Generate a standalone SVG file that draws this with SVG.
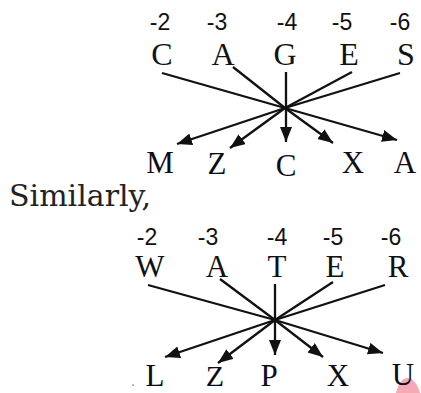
<svg xmlns="http://www.w3.org/2000/svg" width="421" height="393" viewBox="0 0 421 393">
<style>
.num{font-family:"Liberation Sans",Arial,sans-serif;font-size:23px;fill:#111;text-anchor:middle}
.let{font-family:"Liberation Serif","Times New Roman",serif;font-size:32px;fill:#111;text-anchor:middle}
.let2{font-family:"Liberation Serif","Times New Roman",serif;font-size:31px;fill:#111;text-anchor:middle}
.out{font-family:"Liberation Serif","Times New Roman",serif;font-size:31px;fill:#0d0d1a;text-anchor:middle}
.sim{font-family:"DejaVu Serif",serif;font-size:30px;fill:#222}
.ln{stroke:#111;stroke-width:2.3;fill:none}
.ar{stroke:#111;stroke-width:2.3;fill:none;marker-end:url(#ah)}
</style>
<defs>
<marker id="ah" markerUnits="userSpaceOnUse" markerWidth="16" markerHeight="13" refX="15" refY="6" orient="auto">
<path d="M0,0 L15,6 L0,12 Z" fill="#111"/>
</marker>
</defs>
<path d="M396,393 C398,384 402,378 408,378 C414,378 418,386 420,393 Z" fill="#f4a9b5"/>
<g id="top-labels">
<text class="num" x="160" y="30">-2</text>
<text class="num" x="217" y="30">-3</text>
<text class="num" x="287" y="30">-4</text>
<text class="num" x="342" y="30">-5</text>
<text class="num" x="400" y="30">-6</text>
</g>
<g id="node-C"><text class="let" x="162" y="65">C</text></g>
<g id="node-A"><text class="let" x="223" y="65">A</text></g>
<g id="node-G"><text class="let" x="285" y="65">G</text></g>
<g id="node-E"><text class="let" x="349" y="65">E</text></g>
<g id="node-S"><text class="let" x="406" y="65">S</text></g>
<g id="node-M"><text class="out" x="160" y="173">M</text></g>
<g id="node-Z"><text class="out" x="217" y="174">Z</text></g>
<g id="node-C2"><text class="out" x="286" y="176">C</text></g>
<g id="node-X"><text class="out" x="353" y="173">X</text></g>
<g id="node-A2"><text class="out" x="405" y="173">A</text></g>
<g id="connectors-top">
<line class="ln" x1="162" y1="73" x2="285" y2="108"/>
<line class="ln" x1="233" y1="67" x2="285" y2="108"/>
<line class="ln" x1="352" y1="72" x2="285" y2="108"/>
<line class="ln" x1="400" y1="73" x2="285" y2="108"/>
<line class="ar" x1="286" y1="72" x2="286" y2="142"/>
<line class="ar" x1="285" y1="108" x2="177" y2="144"/>
<line class="ar" x1="285" y1="108" x2="230" y2="148"/>
<line class="ar" x1="285" y1="108" x2="333" y2="143"/>
<line class="ar" x1="285" y1="108" x2="397" y2="140"/>
</g>
<text class="sim" x="9" y="206">Similarly,</text>
<g id="bottom-labels">
<text class="num" x="147" y="245">-2</text>
<text class="num" x="208" y="245">-3</text>
<text class="num" x="277" y="245">-4</text>
<text class="num" x="333" y="245">-5</text>
<text class="num" x="391" y="245">-6</text>
</g>
<g id="node-W"><text class="let2" x="150" y="277">W</text></g>
<g id="node-A3"><text class="let2" x="217" y="277">A</text></g>
<g id="node-T"><text class="let2" x="277" y="277">T</text></g>
<g id="node-E2"><text class="let2" x="335" y="277">E</text></g>
<g id="node-R"><text class="let2" x="398" y="277">R</text></g>
<g id="node-L"><text class="out" x="133" y="386" style="font-size:14px;fill:#888">.</text><text class="out" x="155" y="386">L</text></g>
<g id="node-Z2"><text class="out" x="215" y="386" style="font-size:30px">Z</text></g>
<g id="node-P"><text class="out" x="269" y="386">P</text></g>
<g id="node-X2"><text class="out" x="338" y="386">X</text></g>
<g id="node-U"><text class="out" x="403" y="385">U</text></g>
<g id="connectors-bottom">
<line class="ln" x1="148" y1="285" x2="275" y2="320"/>
<line class="ln" x1="220" y1="279" x2="275" y2="320"/>
<line class="ln" x1="333" y1="282" x2="275" y2="320"/>
<line class="ln" x1="385" y1="285" x2="275" y2="320"/>
<line class="ar" x1="275" y1="284" x2="275" y2="355"/>
<line class="ar" x1="275" y1="320" x2="165" y2="357"/>
<line class="ar" x1="275" y1="320" x2="218" y2="363"/>
<line class="ar" x1="275" y1="320" x2="323" y2="357"/>
<line class="ar" x1="275" y1="320" x2="383" y2="353"/>
</g>
</svg>
